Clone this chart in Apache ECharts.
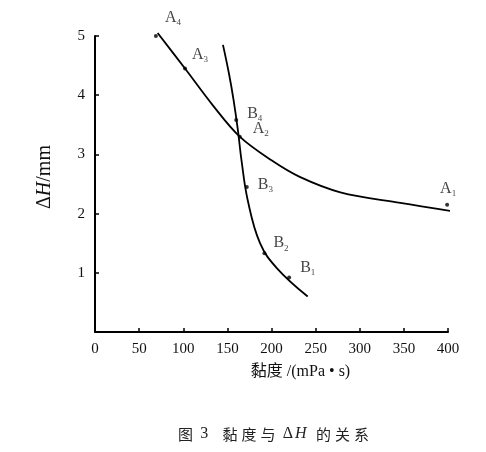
<!DOCTYPE html>
<html>
<head>
<meta charset="utf-8">
<script src="https://cdn.jsdelivr.net/npm/echarts@6/dist/echarts.min.js"></script>
<style>
    html, body { margin: 0; padding: 0; background: #fff; }
    #chart { width: 486px; height: 452px; }
</style>
</head>
<body>
<div id="chart"></div>
<script>
// 测点
const pointNames = ['A1', 'A2', 'A3', 'A4', 'B1', 'B2', 'B3', 'B4'];
const pointX = [399, 164, 102, 69, 220, 192, 172, 160];
const pointY = [2.15, 3.3, 4.45, 5.0, 0.92, 1.33, 2.45, 3.58];

// 拟合曲线 A
const curveAX = [71, 102, 134, 164, 200, 232, 278, 346, 405];
const curveAY = [5.05, 4.45, 3.82, 3.3, 2.9, 2.62, 2.36, 2.18, 2.04];
// 拟合曲线 B
const curveBX = [145, 152, 157, 162, 166, 173, 187, 206, 241];
const curveBY = [4.85, 4.35, 3.92, 3.4, 2.9, 2.23, 1.5, 1.08, 0.6];

const xTicks = [0, 50, 100, 150, 200, 250, 300, 350, 400];
const yTicks = [1, 2, 3, 4, 5];

const serif = '"Liberation Serif", "Noto Sans CJK SC", serif';

// 标签偏移
const labelOffset = {
    A1: [-14, -16], A2: [6, -8], A3: [0, -14], A4: [2, -18],
    B1: [4, -10], B2: [2, -10], B3: [4, -2], B4: [4, -6]
};

const points = pointNames.map((n, i) => ({
    value: [pointX[i], pointY[i]],
    name: n,
    label: { offset: labelOffset[n] }
}));

const cjk = '"Noto Sans CJK SC", sans-serif';

const option = {
    backgroundColor: '#fff',
    animation: false,
    grid: { left: 95, right: 38, top: 36, bottom: 120 },
    xAxis: {
        type: 'value',
        min: 0,
        max: 400,
        interval: 50,
        name: '黏度 /(mPa • s)',
        nameLocation: 'middle',
        nameGap: 32,
        nameTextStyle: { fontFamily: serif, fontSize: 16, color: '#111', padding: [0, 0, 0, 58] },
        axisLine: { lineStyle: { color: '#000', width: 2 } },
        axisTick: { inside: true, length: 4, lineStyle: { color: '#000', width: 1.5 } },
        axisLabel: {
            margin: 10,
            fontFamily: serif,
            fontSize: 15,
            color: '#111',
            formatter: v => xTicks.includes(v) ? String(v) : ''
        },
        splitLine: { show: false }
    },
    yAxis: {
        type: 'value',
        min: 0,
        max: 5,
        interval: 1,
        name: '{a|Δ}{i|H}{a|/mm}',
        nameLocation: 'middle',
        nameGap: 40,
        nameRotate: 90,
        nameTextStyle: {
            padding: [0, 0, 0, 14],
            rich: {
                a: { fontFamily: serif, fontSize: 20, color: '#111' },
                i: { fontFamily: serif, fontSize: 20, fontStyle: 'italic', color: '#111' }
            }
        },
        axisLine: { show: true, lineStyle: { color: '#000', width: 2 } },
        axisTick: { inside: true, length: 4, lineStyle: { color: '#000', width: 1.5 } },
        axisLabel: {
            margin: 10,
            fontFamily: serif,
            fontSize: 15,
            color: '#111',
            formatter: v => yTicks.includes(v) ? String(v) : ''
        },
        splitLine: { show: false }
    },
    series: [
        {
            type: 'line',
            data: curveAX.map((x, i) => [x, curveAY[i]]),
            smooth: 0.35,
            showSymbol: false,
            clip: false,
            lineStyle: { color: '#000', width: 1.8 }
        },
        {
            type: 'line',
            data: curveBX.map((x, i) => [x, curveBY[i]]),
            smooth: 0.4,
            showSymbol: false,
            clip: false,
            lineStyle: { color: '#000', width: 1.8 }
        },
        {
            type: 'scatter',
            data: points,
            symbolSize: 4,
            clip: false,
            itemStyle: { color: '#000' },
            label: {
                show: true,
                position: 'right',
                formatter: p => '{b|' + p.name[0] + '}{s|' + p.name.slice(1) + '}',
                rich: {
                    b: { fontFamily: serif, fontSize: 16, color: '#111' },
                    s: { fontFamily: serif, fontSize: 9, color: '#111', padding: [10, 0, 0, 0] }
                }
            }
        }
    ],
    graphic: [
        {
            type: 'text',
            left: 178,
            top: 426,
            style: {
                text: '{c|图}{g| }{n|3}{g|   }{c|黏}{c|度}{c|与}{g| }{n|Δ}{i|H}{g| }{c|的}{c|关}{c|系}',
                rich: {
                    c: { font: '15px ' + cjk, fill: '#222', padding: [0, 2, 0, 2] },
                    n: { font: '16px "Liberation Serif", serif', fill: '#222', padding: [0, 2, 0, 2] },
                    i: { font: 'italic 16px "Liberation Serif", serif', fill: '#222', padding: [0, 4, 0, 0] },
                    g: { font: '15px ' + cjk, fill: '#222' }
                }
            }
        }
    ]
};

const myChart = echarts.init(document.getElementById('chart'));
myChart.setOption(option);
</script>
</body>
</html>
